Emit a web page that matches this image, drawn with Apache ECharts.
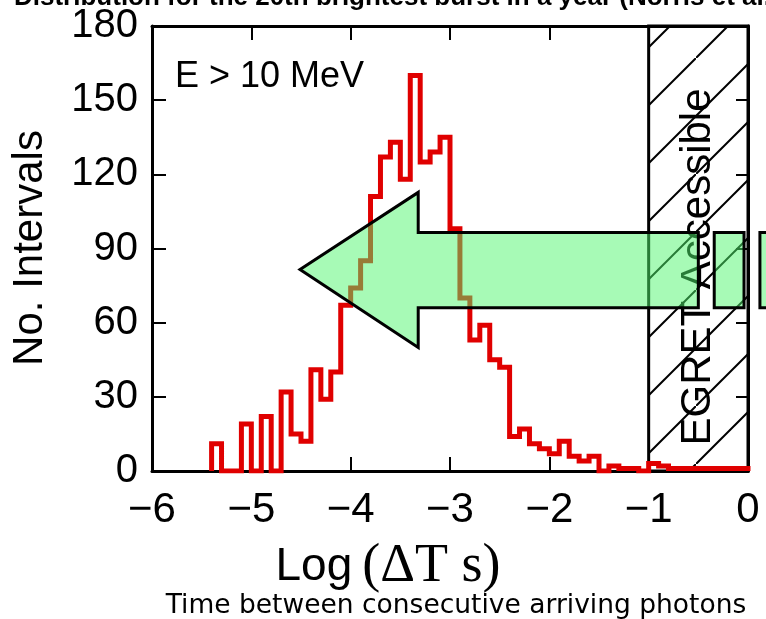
<!DOCTYPE html>
<html>
<head>
<meta charset="utf-8">
<script src="https://cdn.jsdelivr.net/npm/echarts@6/dist/echarts.min.js"></script>
<style>
html,body{margin:0;padding:0;background:#fff}
#chart{width:766px;height:619px}
</style>
</head>
<body>
<div id="chart"></div>
<script>
// histogram: left edge of each bin (log dT) and count in that bin
var binEdges = [-5.4,-5.3,-5.2,-5.1,-5.0,-4.9,-4.8,-4.7,-4.6,-4.5,
                -4.4,-4.3,-4.2,-4.1,-4.0,-3.9,-3.8,-3.7,-3.6,-3.5,
                -3.4,-3.3,-3.2,-3.1,-3.0,-2.9,-2.8,-2.7,-2.6,-2.5,
                -2.4,-2.3,-2.2,-2.1,-2.0,-1.9,-1.8,-1.7,-1.6,-1.5,
                -1.4,-1.3,-1.2,-1.1,-1.0,-0.9,-0.8,-0.7,-0.6,-0.5,
                -0.4,-0.3,-0.2,-0.1];
var binCounts = [11,0,0,19,0,22,0,32,15,12,
                 41,29,40,67,74,85,111,127,133,118,
                 160,125,129,135,98,70,53,59,45,42,
                 14,17,11,9,7,12,6,4,6,0,
                 2,1,1,0,3,2,1,1,1,1,
                 1,1,1,1];
var lastEdge = 0;

// EGRET accessible band (log dT)
var egretBand = [-1, 0];

// big arrow, in data units: head then shaft pieces
var arrowHead = [[-4.51,81.5],[-3.32,112.7],[-3.32,96.5],[-0.50,96.5],[-0.50,66],[-3.32,66],[-3.32,50]];
var arrowBlocks = [[-0.34,-0.04],[0.12,0.4]];
var arrowShaft = [66, 96.5];

var xMin = -6, xMax = 0, xStep = 1;
var yMin = 0, yMax = 180, yStep = 30;

var stepData = [[binEdges[0], 0]];
for (var i = 0; i < binEdges.length; i++) {
    stepData.push([binEdges[i], binCounts[i]]);
}
stepData.push([lastEdge, binCounts[binCounts.length - 1]]);
stepData.push([lastEdge, 0]);

// hatch pattern for the EGRET band
function makeHatch(){
    var s = 58;
    var c = document.createElement('canvas');
    c.width = s; c.height = s;
    var g = c.getContext('2d');
    g.strokeStyle = '#000';
    g.lineWidth = 2;
    g.beginPath();
    g.moveTo(-3, s + 3);
    g.lineTo(s + 3, -3);
    g.stroke();
    return c;
}

var chart = echarts.init(document.getElementById('chart'));

function minusFmt(v){
    return String(v).replace('-', '\u2212');
}

var axisLine = {show: true, onZero: false, lineStyle: {color: '#000', width: 3}};
var axisTick = {show: true, inside: true, length: 14, lineStyle: {color: '#000', width: 2}};

var option = {
    animation: false,
    backgroundColor: '#fff',
    grid: {left: 152, right: 18, top: 26, bottom: 148, containLabel: false},
    xAxis: [{
        type: 'value', min: xMin, max: xMax, interval: xStep, position: 'bottom',
        axisLine: axisLine, axisTick: axisTick, splitLine: {show: false},
        axisLabel: {color: '#000', fontSize: 42, fontFamily: 'Liberation Sans', margin: 18, formatter: minusFmt}
    }, {
        type: 'value', min: xMin, max: xMax, interval: xStep, position: 'top',
        axisLine: axisLine, axisTick: axisTick, splitLine: {show: false},
        axisLabel: {show: false}
    }],
    yAxis: [{
        type: 'value', min: yMin, max: yMax, interval: yStep, position: 'left',
        axisLine: axisLine, axisTick: axisTick, splitLine: {show: false},
        axisLabel: {color: '#000', fontSize: 40, fontFamily: 'Liberation Sans', margin: 14}
    }, {
        type: 'value', min: yMin, max: yMax, interval: yStep, position: 'right',
        axisLine: axisLine, axisTick: {show: true, inside: true, length: 12, lineStyle: {color: '#000', width: 2}},
        splitLine: {show: false}, axisLabel: {show: false}
    }],
    graphic: [
        {type: 'text', left: 14, top: -15, z: 10,
         style: {text: 'Distribution for the 20th brightest burst in a year (Norris et al. 1996)',
                 fontSize: 26, fontWeight: 'bold', fontFamily: 'Liberation Sans', fill: '#000'}},
        {type: 'text', x: 30, y: 248, rotation: Math.PI / 2, z: 10,
         style: {text: 'No. Intervals', fontSize: 42, fontFamily: 'Liberation Sans', fill: '#000',
                 align: 'center', verticalAlign: 'middle'}},
        {type: 'text', x: 175, y: 77, z: 10,
         style: {text: 'E > 10 MeV', fontSize: 36, fontFamily: 'Liberation Sans', fill: '#000',
                 align: 'left', verticalAlign: 'middle'}},
        {type: 'text', x: 388, y: 567, z: 10,
         style: {text: '{a|Log}   {b|(\u0394T s)}', align: 'center', verticalAlign: 'middle',
                 rich: {
                     a: {fontSize: 46, fontFamily: 'Liberation Sans', fill: '#000'},
                     b: {fontSize: 54, fontFamily: 'Liberation Serif', fill: '#000'}
                 }}},
        {type: 'text', x: 456, y: 606, z: 10,
         style: {text: 'Time between consecutive arriving photons', fontSize: 26.5,
                 fontFamily: 'DejaVu Sans', fill: '#000', align: 'center', verticalAlign: 'middle'}},
        {type: 'text', x: 698, y: 267, rotation: Math.PI / 2, z: 1,
         style: {text: 'EGRET Accessible', fontSize: 42, fontFamily: 'Liberation Sans', fill: '#000',
                 align: 'center', verticalAlign: 'middle', backgroundColor: '#fff', padding: [0, 4]}}
    ],
    series: [{
        // hatched band
        type: 'line', data: [], z: 0, silent: true,
        markArea: {
            silent: true,
            itemStyle: {color: {image: makeHatch(), repeat: 'repeat'}, borderColor: '#000', borderWidth: 3},
            data: [[{xAxis: egretBand[0], yAxis: yMin}, {xAxis: egretBand[1], yAxis: yMax}]]
        }
    }, {
        type: 'line', data: stepData, step: 'end', z: 3,
        symbol: 'none', silent: true,
        lineStyle: {color: '#e00000', width: 5, join: 'miter'}
    }, {
        type: 'custom', z: 5, silent: true, clip: false,
        data: [[0, 0]],
        renderItem: function(params, api){
            var st = {fill: 'rgba(80,245,110,0.5)', stroke: '#000', lineWidth: 3};
            var pts = arrowHead.map(function(p){ return api.coord(p); });
            var kids = [{type: 'polygon', shape: {points: pts}, style: st}];
            arrowBlocks.forEach(function(b){
                var a = api.coord([b[0], arrowShaft[1]]);
                var c = api.coord([b[1], arrowShaft[0]]);
                kids.push({type: 'rect', shape: {x: a[0], y: a[1], width: c[0] - a[0], height: c[1] - a[1]}, style: st});
            });
            return {type: 'group', children: kids};
        }
    }]
};

chart.setOption(option);
</script>
</body>
</html>
